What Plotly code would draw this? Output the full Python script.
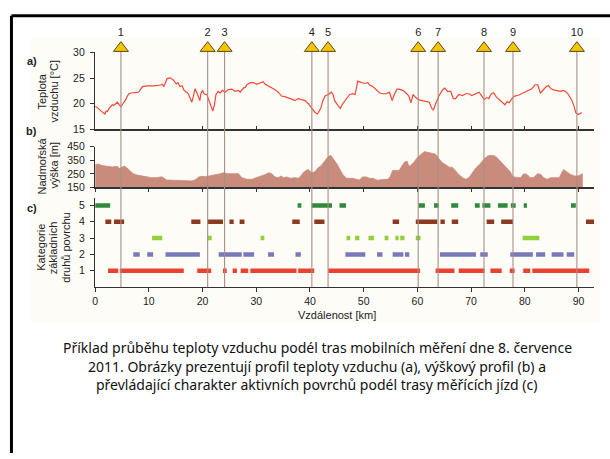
import plotly.graph_objects as go

# ---------------- data ----------------
temp_km = [0.0, 0.6, 1.06, 1.56, 1.8, 2.05, 2.3, 2.6, 2.9, 3.2, 3.5, 3.8, 4.15, 4.5, 4.8, 5.1, 5.4, 5.7, 6.0, 6.3,
           6.6, 6.9, 7.2, 7.9, 8.2, 8.5, 8.8, 9.7, 10.9, 12.2, 12.5, 12.8, 13.1, 13.4, 14.0, 14.5, 14.8, 15.1, 15.4,
           15.8, 16.2, 16.5, 16.8, 17.1, 17.4, 17.7, 18.0, 18.3, 18.6, 18.97, 19.3, 19.5, 19.7, 20.0, 20.2, 20.5,
           20.8, 21.1, 21.4, 21.7, 21.9, 22.2, 22.5, 22.9, 23.3, 23.7, 24.2, 24.8, 25.45, 26.0, 26.7, 27.0, 27.3,
           27.6, 28.0, 28.2, 28.9, 29.5, 30.1, 30.7, 31.3, 31.6, 32.2, 32.8, 33.5, 34.1, 34.7, 35.3, 35.95, 36.6,
           37.2, 37.8, 38.4, 39.1, 39.7, 40.3, 40.9, 41.4, 41.7, 42.0, 42.4, 42.8, 43.4, 44.0, 44.3, 44.6, 45.2,
           45.65, 46.1, 46.8, 47.4, 48.0, 48.4, 48.9, 49.5, 50.1, 50.8, 51.1, 51.7, 52.3, 53.0, 53.6, 54.2, 54.8,
           55.3, 55.7, 56.2, 56.6, 57.3, 57.9, 58.4, 58.8, 59.2, 59.7, 60.2, 60.95, 61.6, 62.2, 62.7, 63.0, 63.4,
           64.0, 64.7, 65.1, 65.6, 66.2, 66.7, 67.1, 67.7, 68.4, 69.0, 69.6, 70.1, 70.5, 70.9, 71.5, 72.0, 72.4,
           72.9, 73.3, 73.8, 74.2, 74.7, 75.2, 75.8, 76.3, 76.7, 77.1, 77.6, 78.1, 78.8, 79.5, 80.1, 80.7, 81.3,
           81.9, 82.4, 82.9, 83.4, 84.0, 84.4, 84.9, 85.35, 86.0, 86.6, 87.2, 87.7, 88.1, 88.75, 89.2, 89.5, 90.0,
           90.3, 90.6]
temp_c = [19.5, 19.1, 18.6, 18.2, 18.0, 18.6, 18.5, 19.1, 19.4, 19.8, 19.7, 20.0, 20.3, 19.8, 19.4, 19.9, 20.3,
          20.8, 21.5, 21.95, 22.1, 22.1, 22.1, 22.2, 22.4, 23.0, 23.35, 23.5, 23.5, 23.65, 23.8, 23.35, 24.1, 24.9,
          25.05, 24.7, 24.3, 23.85, 24.1, 23.35, 23.5, 22.7, 22.4, 22.25, 21.8, 21.2, 20.3, 21.5, 22.9, 22.1, 21.0,
          20.6, 22.0, 22.6, 22.1, 21.8, 21.8, 20.9, 19.7, 18.8, 18.6, 19.7, 21.8, 22.4, 22.1, 22.6, 22.25, 22.75,
          22.85, 22.4, 22.6, 22.25, 22.6, 23.05, 23.2, 23.65, 24.1, 24.1, 23.8, 24.1, 24.3, 23.85, 23.5, 23.2,
          22.75, 22.25, 21.5, 21.4, 21.2, 20.9, 20.6, 21.0, 20.8, 20.6, 20.0, 19.1, 18.35, 18.0, 18.5, 19.1, 20.6,
          21.5, 21.8, 22.25, 21.8, 20.6, 19.7, 19.1, 20.0, 20.9, 21.8, 21.95, 21.8, 24.4, 24.1, 23.95, 24.1, 23.65,
          23.35, 22.85, 22.1, 21.95, 21.95, 22.25, 20.6, 21.8, 22.85, 22.85, 22.6, 22.1, 21.5, 20.2, 21.8, 21.2,
          20.8, 20.6, 20.4, 20.3, 19.1, 18.8, 20.0, 21.5, 22.75, 23.05, 22.4, 22.4, 21.0, 21.0, 21.8, 21.6, 21.95,
          21.95, 21.6, 21.8, 21.95, 22.25, 21.5, 20.8, 21.2, 21.0, 22.0, 22.1, 21.35, 20.9, 20.4, 19.8, 20.4,
          20.2, 21.0, 21.5, 21.65, 21.97, 22.3, 22.6, 22.9, 23.7, 23.7, 22.1, 22.7, 23.35, 23.55, 22.9, 22.7,
          22.6, 22.4, 22.6, 22.3, 21.85, 20.7, 19.45, 18.2, 17.9, 18.05, 18.3]

elev_km = [0.0, 0.6, 1.3, 2.2, 3.2, 4.1, 4.5, 5.0, 5.5, 5.9, 6.5, 7.1, 7.8, 8.7, 9.6, 10.5, 11.5, 12.4, 12.7, 13.3,
           14.3, 15.5, 16.8, 18.0, 18.6, 19.3, 19.9, 20.5, 21.4, 22.4, 23.3, 23.9, 24.6, 25.5, 26.7, 27.3, 28.3,
           29.2, 30.1, 31.0, 31.7, 32.3, 32.9, 33.5, 34.1, 34.6, 35.1, 35.7, 36.3, 37.2, 37.8, 38.3, 38.8, 39.3,
           39.7, 40.3, 40.9, 41.5, 42.1, 42.7, 43.4, 43.9, 44.3, 44.9, 45.5, 46.1, 46.8, 47.4, 48.0, 48.6, 49.2,
           49.8, 50.5, 51.1, 51.7, 52.1, 52.6, 53.5, 54.5, 54.9, 55.4, 56.0, 56.6, 57.1, 57.6, 58.1, 58.4, 58.8,
           59.4, 60.0, 60.7, 61.3, 61.9, 62.8, 63.4, 64.0, 64.7, 65.3, 65.9, 66.5, 67.1, 67.7, 68.4, 69.0, 69.6,
           70.2, 70.8, 71.5, 72.1, 72.7, 73.3, 74.2, 74.8, 75.4, 76.0, 76.7, 77.3, 77.8, 78.5, 79.2, 79.8, 80.4,
           81.0, 81.6, 82.4, 83.0, 83.5, 84.2, 84.8, 85.6, 86.4, 87.2, 87.8, 88.5, 89.3, 89.9, 90.5, 90.8]
elev_m = [318, 323, 311, 306, 301, 306, 289, 299, 308, 294, 270, 251, 241, 234, 227, 222, 222, 229, 222, 205,
          203, 200, 200, 198, 205, 227, 232, 229, 236, 241, 251, 258, 251, 251, 251, 222, 210, 210, 222, 234,
          246, 258, 251, 227, 222, 234, 222, 227, 217, 222, 217, 234, 262, 275, 282, 258, 265, 294, 311, 342,
          378, 385, 366, 330, 289, 246, 217, 217, 217, 210, 205, 227, 227, 217, 217, 210, 203, 208, 210, 227,
          275, 275, 275, 306, 337, 342, 306, 313, 337, 371, 395, 414, 409, 402, 395, 361, 330, 318, 299, 299,
          270, 246, 222, 210, 222, 258, 289, 318, 347, 371, 385, 385, 371, 347, 318, 289, 265, 227, 227, 222,
          251, 246, 222, 222, 251, 246, 222, 210, 222, 222, 222, 282, 265, 246, 234, 234, 246, 251]

# surface categories: (start km, end km) segments
cat5_segments = [(0.0, 2.8), (37.7, 38.4), (40.3, 44.1), (45.5, 46.7), (60.2, 61.4), (63.1, 64.0), (66.3, 67.6),
                 (70.7, 71.6), (72.1, 73.6), (75.0, 76.8), (77.4, 78.3), (79.8, 80.4), (88.6, 89.5)]
cat4_segments = [(1.9, 3.0), (3.5, 5.4), (17.9, 19.6), (20.9, 23.8), (25.0, 25.8), (26.9, 27.8), (36.7, 38.1),
                 (40.8, 42.7), (55.4, 56.6), (59.7, 63.7), (64.3, 65.1), (66.4, 67.6), (72.9, 74.3), (75.6, 77.8),
                 (91.4, 93.0)]
cat3_segments = [(10.6, 12.5), (20.9, 21.7), (30.8, 31.5), (46.8, 47.5), (48.4, 49.2), (50.9, 51.9), (53.9, 54.6),
                 (55.9, 56.5), (56.8, 57.6), (59.7, 60.6), (79.6, 82.7)]
cat2_segments = [(7.1, 8.3), (9.7, 10.8), (13.1, 19.5), (23.0, 27.3), (27.6, 29.6), (32.2, 33.3), (37.3, 38.3),
                 (46.6, 50.3), (52.5, 53.5), (55.4, 57.4), (57.7, 58.5), (64.2, 70.9), (71.7, 73.1), (77.3, 81.5),
                 (82.1, 83.8), (85.0, 87.2), (87.8, 89.2)]
cat1_segments = [(2.4, 4.3), (4.6, 16.5), (19.0, 21.6), (23.8, 24.5), (25.6, 26.4), (27.1, 28.5), (28.9, 37.5),
                 (37.8, 40.8), (43.4, 60.5), (63.4, 66.9), (67.7, 72.5), (73.6, 75.7), (77.2, 78.1), (79.7, 81.0),
                 (81.4, 92.0)]
categories = [1, 2, 3, 4, 5]
category_colors = {1: "#ea4130", 2: "#7878ba", 3: "#93cf3d", 4: "#8c3a22", 5: "#2f8a3c"}

site_km = [4.8, 20.95, 24.1, 40.35, 43.37, 60.15, 63.86, 72.4, 77.8, 89.7]
site_labels = ["1", "2", "3", "4", "5", "6", "7", "8", "9", "10"]

# ---------------- layout geometry ----------------
W, H = 610, 459
def py(v):  # pixel row -> paper fraction
    return 1 - v / H

x_dom = [92.6 / W, 594 / W]
x_range = [0, 92.9]
dom_a = [py(126.7), py(47.7)]
dom_b = [py(186.3), py(144.5)]
dom_c = [py(288.7), py(196.7)]
dom_m = [py(288.7), py(36.0)]

fig = go.Figure()

# temperature
fig.add_trace(go.Scatter(x=temp_km, y=temp_c, mode="lines", line=dict(color="#f4483a", width=1.2),
                         xaxis="x", yaxis="y", showlegend=False, hoverinfo="skip"))
# elevation
fig.add_trace(go.Scatter(x=elev_km, y=elev_m, mode="lines", fill="tozeroy", fillcolor="#c98b7c",
                         line=dict(color="#c98b7c", width=0.8),
                         xaxis="x2", yaxis="y2", showlegend=False, hoverinfo="skip"))
# categories
seg_map = {1: cat1_segments, 2: cat2_segments, 3: cat3_segments, 4: cat4_segments, 5: cat5_segments}
for c in categories:
    xs, ys = [], []
    for a, b in seg_map[c]:
        xs += [a, b, None]
        ys += [c, c, None]
    fig.add_trace(go.Scatter(x=xs, y=ys, mode="lines", line=dict(color=category_colors[c], width=4.5),
                             xaxis="x3", yaxis="y3", showlegend=False, hoverinfo="skip"))

# site vertical lines + triangles
tri_y = (py(43.3) - dom_m[0]) / (dom_m[1] - dom_m[0])
vx, vy = [], []
for k in site_km:
    vx += [k, k, None]
    vy += [0, tri_y, None]
fig.add_trace(go.Scatter(x=vx, y=vy, mode="lines", line=dict(color="#a88e88", width=1.1),
                         xaxis="x4", yaxis="y4", showlegend=False, hoverinfo="skip"))
fig.add_trace(go.Scatter(x=site_km, y=[tri_y] * len(site_km), mode="markers+text",
                         marker=dict(symbol="triangle-up", size=13, color="#f6c500",
                                     line=dict(color="#5a4a20", width=1)),
                         text=site_labels, textposition="top center",
                         textfont=dict(family="Liberation Sans", size=11, color="#222"),
                         cliponaxis=False,
                         xaxis="x4", yaxis="y4", showlegend=False, hoverinfo="skip"))

axis_font = dict(family="Liberation Sans, Arial", size=10.5, color="#222")
xcommon = dict(domain=x_dom, range=x_range, showgrid=False, zeroline=False, showline=True,
               linecolor="#333", linewidth=1.3, tickvals=[0, 10, 20, 30, 40, 50, 60, 70, 80, 90],
               tickcolor="#333", tickfont=axis_font)
ycommon = dict(showgrid=False, zeroline=False, showline=True, linecolor="#333", linewidth=1.3,
               ticks="outside", ticklen=4, tickcolor="#333", tickfont=axis_font, ticklabelstandoff=3)

fig.update_layout(
    width=W, height=H, margin=dict(l=0, r=0, t=0, b=0),
    paper_bgcolor="white", plot_bgcolor="rgba(0,0,0,0)",
    xaxis=dict(**xcommon, anchor="y", ticks="inside", ticklen=3, showticklabels=False),
    yaxis=dict(**ycommon, domain=dom_a, range=[15, 30], tickvals=[15, 20, 25, 30], anchor="x"),
    xaxis2=dict(**xcommon, anchor="y2", ticks="outside", ticklen=3, showticklabels=False),
    yaxis2=dict(**ycommon, domain=dom_b, range=[150, 450], tickvals=[150, 250, 350, 450], anchor="x2"),
    xaxis3=dict(**xcommon, anchor="y3", ticks="outside", ticklen=4, showticklabels=True),
    yaxis3=dict(**ycommon, domain=dom_c, range=[0, 5.48], tickvals=[1, 2, 3, 4, 5], anchor="x3"),
    xaxis4=dict(domain=x_dom, range=x_range, visible=False, anchor="y4", overlaying="x3"),
    yaxis4=dict(domain=dom_m, range=[0, 1], visible=False, anchor="x4"),
)

shapes = [
    # light cream background of the embedded figure
    dict(type="rect", xref="paper", yref="paper", x0=28 / W, x1=600 / W, y0=py(325), y1=py(32),
         fillcolor="#fdfcf6", line=dict(width=0), layer="below"),
    # slide frame
    dict(type="line", xref="paper", yref="paper", x0=8.5 / W, x1=1, y0=py(10), y1=py(10),
         line=dict(color="black", width=3)),
    dict(type="line", xref="paper", yref="paper", x0=8.5 / W, x1=8.5 / W, y0=py(10), y1=0,
         line=dict(color="black", width=3)),
]
fig.update_layout(shapes=shapes)

lab_font = dict(family="Liberation Sans, Arial", size=11, color="#222")
ann = []
def add_text(text, x, y, angle=0, font=lab_font):
    ann.append(dict(text=text, x=x / W, y=py(y), xref="paper", yref="paper", showarrow=False,
                    textangle=angle, font=font, xanchor="center", yanchor="middle"))

add_text("<b>a)</b>", 29, 56)
add_text("<b>b)</b>", 29, 128)
add_text("<b>c)</b>", 29, 207)
add_text("Teplota", 39, 88, -90)
add_text("vzduchu [°C]", 51, 88, -90)
add_text("Nadmořská", 39, 164, -90)
add_text("výška [m]", 51, 164, -90)
add_text("Kategorie", 37.5, 248, -90)
add_text("základních", 50, 248, -90)
add_text("druhů povrchu", 62.5, 248, -90)
add_text("Vzdálenost [km]", 336, 317.7)

cap_font = dict(family="Noto Sans, DejaVu Sans", size=14, color="#111")
add_text("Příklad průběhu teploty vzduchu podél tras mobilních měření dne 8. července", 316, 350.7, font=cap_font)
add_text("2011. Obrázky prezentují profil teploty vzduchu (a), výškový profil (b) a", 316, 370, font=cap_font)
add_text("převládající charakter aktivních povrchů podél trasy měřících jízd (c)", 316, 388.3, font=cap_font)
fig.update_layout(annotations=ann)

fig.write_html("out.html", config={"displayModeBar": False, "staticPlot": True},
               post_script="document.body.style.margin='0';document.body.style.overflow='hidden';")
